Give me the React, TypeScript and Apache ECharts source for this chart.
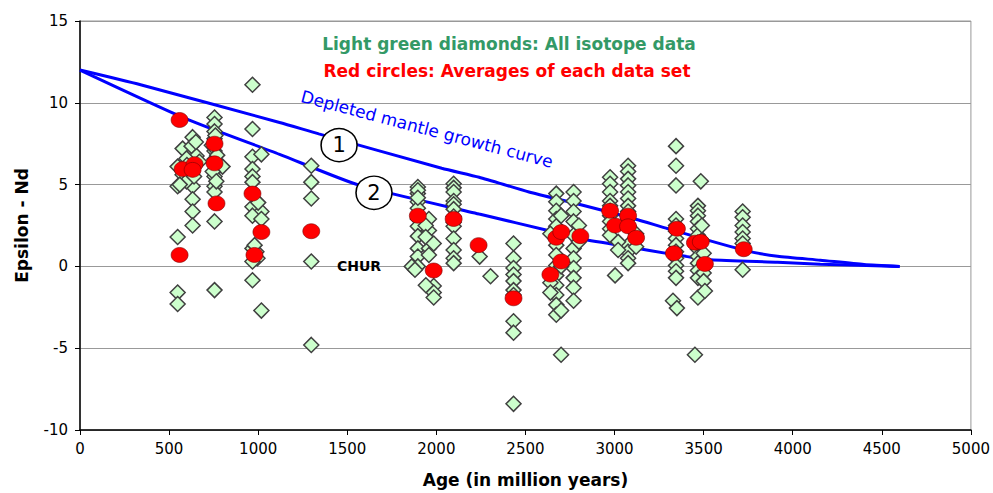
import React, { useEffect, useRef } from 'react';
import * as echarts from 'echarts';

// All isotope data: [age (Ma), epsilon Nd]
const isotopeNeoproterozoic: [number, number][] = [
  [632, 7.9], [576, 7.2], [626, 7.35], [654, 6.75], [548, 6.1], [598, 6.6], [632, 6.0], [548, 4.9],
  [632, 4.9], [632, 4.1], [632, 3.35], [632, 2.5], [548, 1.8], [548, -1.6], [548, -2.3], [576, 5.6],
  [598, 5.2], [670, 6.4], [650, 7.6], [560, 5.0], [600, 6.2], [640, 5.5],
  [755, 9.1], [755, 8.7], [755, 8.25], [755, 7.8], [755, 7.05], [755, 6.55], [783, 6.15], [800, 6.1],
  [755, 5.5], [755, 4.9], [755, 4.55], [755, 2.75], [755, -1.45], [740, 7.4], [770, 6.8], [745, 5.8],
  [765, 5.2], [760, 8.0],
  [968, 11.1], [968, 8.4], [968, 6.7], [1018, 6.85], [968, 5.95], [968, 5.5], [968, 5.15], [968, 3.65],
  [1018, 3.35], [968, 3.1], [1018, 2.9], [968, 1.1], [990, 0.9], [996, 0.5], [968, 0.3], [968, -0.85],
  [1018, -2.7], [980, 1.3], [1000, 3.9],
  [1298, 6.15], [1298, 5.15], [1298, 4.15], [1298, 0.3], [1298, -4.8],
];

const isotopePaleoproterozoic: [number, number][] = [
  [1896, 4.85], [1896, 4.45], [1896, 3.95], [1896, 3.55], [1896, 2.9], [1896, 2.45], [1896, 1.85],
  [1896, 1.1], [1896, 0.6], [1896, 0.0], [1896, 4.65], [1896, 4.2],
  [1958, 2.9], [1958, 2.2], [1958, 1.6], [1958, 1.1], [1958, 0.7], [1940, 2.5], [1940, 1.8],
  [1985, 1.4], [1985, -1.2], [1985, -1.6], [1985, -1.9], [1941, -1.15], [1862, 0.0], [1880, -0.2],
  [2097, 5.05], [2097, 4.8], [2097, 4.55], [2097, 4.0], [2097, 3.8], [2097, 3.5], [2097, 3.05],
  [2097, 2.7], [2097, 2.45], [2097, 1.7], [2097, 1.0], [2097, 0.5], [2097, 0.2],
  [2243, 0.6], [2304, -0.6],
  [2433, 1.4], [2433, 0.5], [2433, -0.1], [2433, -0.5], [2433, -0.9], [2433, -1.45], [2433, -1.75],
  [2433, -3.35], [2433, -4.05], [2433, -8.4],
];

const isotopeArchean: [number, number][] = [
  [2673, 4.45], [2673, 3.95], [2673, 3.4], [2673, 2.9], [2673, 2.45], [2673, 1.9], [2673, 1.3],
  [2673, 0.7], [2673, 0.05], [2673, -0.55], [2673, -1.15], [2673, -1.75], [2673, -2.35], [2673, -2.95],
  [2770, 4.55], [2770, 4.0], [2770, 3.35], [2770, 2.75], [2770, 1.9], [2770, 1.1], [2770, 0.5],
  [2770, -0.1], [2770, -0.7], [2770, -1.3], [2770, -2.1],
  [2700, -5.4], [2640, 2.0], [2640, -1.0], [2640, -1.6], [2700, 3.1], [2700, -2.7], [2700, 0.0],
  [2800, 1.5], [2800, 2.5],
  [2975, 5.45], [2975, 5.05], [2975, 4.55], [2975, 4.0], [2975, 3.7], [2975, 3.4], [2975, 3.1],
  [2975, 2.75], [2975, 2.3], [2975, 1.9],
  [3076, 6.15], [3076, 5.8], [3076, 5.35], [3076, 4.95], [3076, 4.55], [3076, 4.15], [3076, 3.7],
  [3076, 3.35], [3076, 2.9], [3076, 2.5], [3076, 1.3], [3076, 0.9], [3076, 0.5], [3076, 0.2],
  [3003, -0.55], [3121, 1.2], [3121, 2.0], [3020, 1.5], [3020, 1.0],
  [3345, 7.35], [3345, 6.15], [3345, 4.95], [3345, 2.9], [3345, 2.5], [3345, 2.15], [3345, 1.7],
  [3345, 1.3], [3345, 0.9], [3345, 0.5], [3345, 0.05], [3345, -0.3], [3345, -0.7], [3328, -2.1],
  [3350, -2.55],
  [3484, 5.2], [3468, 3.7], [3468, 3.4], [3468, 3.1], [3468, 2.75], [3468, 2.3], [3468, 1.9],
  [3468, 1.45], [3468, 1.05], [3468, 0.6], [3468, 0.2], [3468, -0.25], [3468, -0.7], [3490, 2.5],
  [3490, 1.6], [3500, 0.8], [3500, -0.4], [3500, -0.9], [3468, -1.9], [3507, -1.5], [3451, -5.4],
  [3719, 3.35], [3719, 3.0], [3719, 2.5], [3719, 2.1], [3719, 1.7], [3719, 1.4], [3719, -0.2],
];

// Averages of each data set
const dataSetAverages: [number, number][] = [
  [559, 8.95], [559, 0.7], [576, 5.95], [643, 6.25], [632, 5.9], [755, 7.5], [755, 6.3], [766, 3.85],
  [968, 4.45], [1018, 2.1], [979, 0.7], [1298, 2.15], [1896, 3.1], [1985, -0.25], [2097, 2.9],
  [2237, 1.3], [2433, -1.95], [2673, 1.75], [2701, 2.1], [2808, 1.85], [2701, 0.3], [2640, -0.5],
  [2975, 3.4], [3003, 2.5], [3076, 3.1], [3076, 2.45], [3121, 1.75], [3350, 2.3], [3333, 0.8],
  [3451, 1.45], [3484, 1.5], [3507, 0.15], [3725, 1.05],
];

// Depleted mantle growth curves
const depletedMantle1: [number, number][] = [
  [0, 12], [340, 11.1], [1120, 8.8], [1340, 8.1], [2030, 6.0], [2240, 5.45], [2520, 4.55],
  [2800, 3.8], [3115, 2.9], [3300, 2.3], [3730, 0.98], [3915, 0.62], [4155, 0.38], [4400, 0.12],
  [4600, 0],
];
const depletedMantle2: [number, number][] = [
  [0, 12], [600, 9.0], [1120, 6.85], [1570, 4.95], [2240, 3.2], [2645, 2.15], [2800, 1.7],
  [3076, 1.2], [3317, 0.75], [3540, 0.4], [3915, 0.26], [4155, 0.13], [4600, 0],
];

const curveLabel1: [number, number] = [1454, 7.41];
const curveLabel2: [number, number] = [1650, 4.5];
const churPos: [number, number] = [1566, 0.02];

const FONT = "'DejaVu Sans', 'Liberation Sans', sans-serif";

export default function App() {
  const ref = useRef<HTMLDivElement>(null);
  useEffect(() => {
    const chart = echarts.init(ref.current!, null, { renderer: 'svg' });
    const circleMark = (coord: [number, number], text: string) => ({
      coord,
      symbol: 'circle',
      symbolSize: [36, 33],
      itemStyle: { color: '#fff', borderColor: '#000', borderWidth: 1.5 },
      label: { show: true, position: 'inside', formatter: text, color: '#000', fontSize: 21, fontFamily: FONT },
    });
    const isoStyle = {
      type: 'scatter',
      symbol: 'diamond',
      symbolSize: 15,
      itemStyle: { color: '#CCFFCC', borderColor: '#404040', borderWidth: 1.5, opacity: 1 },
      z: 3,
    };
    const plain = (v: number) => String(v);
    chart.setOption({
      animation: false,
      textStyle: { fontFamily: FONT },
      grid: { left: 80, right: 19, top: 21, bottom: 60, show: true, borderColor: '#999', borderWidth: 1 },
      xAxis: {
        type: 'value', min: 0, max: 5000, interval: 500,
        name: 'Age (in million years)', nameLocation: 'middle', nameGap: 41,
        nameTextStyle: { fontSize: 17, fontWeight: 'bold', color: '#000', fontFamily: FONT },
        axisLine: { onZero: false, lineStyle: { color: '#000', width: 1.5 } },
        axisTick: { show: true, length: 5, lineStyle: { color: '#000' } },
        axisLabel: { fontSize: 15, color: '#000', margin: 11, fontFamily: FONT, formatter: plain },
        splitLine: { show: false },
      },
      yAxis: {
        type: 'value', min: -10, max: 15, interval: 5,
        name: 'Epsilon - Nd', nameLocation: 'middle', nameGap: 50, nameRotate: 90,
        nameTextStyle: { fontSize: 17, fontWeight: 'bold', color: '#000', fontFamily: FONT },
        axisLine: { show: true, onZero: false, lineStyle: { color: '#000', width: 1.5 } },
        axisTick: { show: true, length: 5, lineStyle: { color: '#000' } },
        axisLabel: { fontSize: 15, color: '#000', margin: 12, fontFamily: FONT, formatter: plain },
        splitLine: { show: true, lineStyle: { color: '#999', width: 1 } },
      },
      series: [
        {
          type: 'line', data: depletedMantle1, showSymbol: false, smooth: 0.2,
          lineStyle: { color: '#0000FF', width: 3 }, z: 2,
          markPoint: { data: [circleMark(curveLabel1, '1')], z: 4 },
        },
        {
          type: 'line', data: depletedMantle2, showSymbol: false, smooth: 0.2,
          lineStyle: { color: '#0000FF', width: 3 }, z: 2,
          markPoint: {
            data: [
              circleMark(curveLabel2, '2'),
              {
                coord: churPos, symbol: 'circle', symbolSize: 0,
                label: { show: true, position: 'inside', formatter: 'CHUR', color: '#000', fontSize: 14, fontWeight: 'bold', fontFamily: FONT },
              },
            ],
            z: 4,
          },
        },
        { ...isoStyle, data: isotopeNeoproterozoic },
        { ...isoStyle, data: isotopePaleoproterozoic },
        { ...isoStyle, data: isotopeArchean },
        {
          type: 'scatter', symbol: 'circle', symbolSize: [17, 15], data: dataSetAverages,
          itemStyle: { color: '#FF0000', borderColor: '#7a0000', borderWidth: 0.6, opacity: 1 }, z: 5,
        },
      ],
      graphic: [
        {
          type: 'text', x: 509, y: 44, z: 10,
          style: { text: 'Light green diamonds: All isotope data', fill: '#339966', font: `bold 17px ${FONT}`, align: 'center', verticalAlign: 'middle', textAlign: 'center', textVerticalAlign: 'middle' },
        },
        {
          type: 'text', x: 507, y: 71, z: 10,
          style: { text: 'Red circles: Averages of each data set', fill: '#FF0000', font: `bold 17px ${FONT}`, align: 'center', verticalAlign: 'middle', textAlign: 'center', textVerticalAlign: 'middle' },
        },
        {
          type: 'text', x: 427, y: 129, rotation: -0.258, z: 10,
          style: { text: 'Depleted mantle growth curve', fill: '#0000FF', font: `17px ${FONT}`, align: 'center', verticalAlign: 'middle', textAlign: 'center', textVerticalAlign: 'middle' },
        },
      ],
    });
    return () => chart.dispose();
  }, []);
  return <div ref={ref} style={{ position: 'absolute', left: 0, top: 0, width: 993, height: 493, background: '#fff' }} />;
}
